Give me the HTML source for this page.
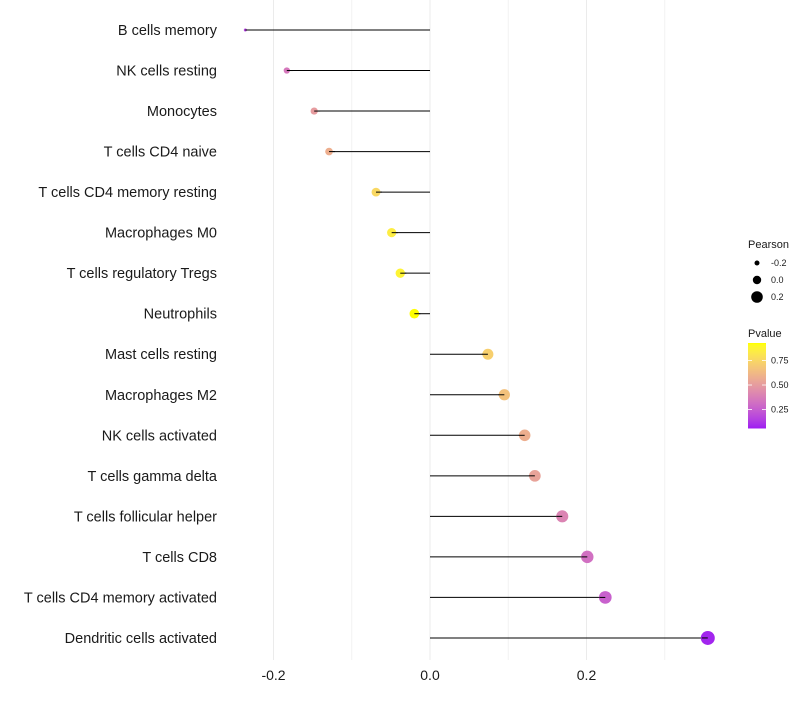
<!DOCTYPE html>
<html><head><meta charset="utf-8"><style>
body{margin:0;background:#fff;}
svg text{font-family:"Liberation Sans",sans-serif;}
</style></head><body>
<svg id="chart" width="800" height="700"></svg>
<script>
const categories=["B cells memory","NK cells resting","Monocytes","T cells CD4 naive","T cells CD4 memory resting","Macrophages M0","T cells regulatory  Tregs ","Neutrophils","Mast cells resting","Macrophages M2","NK cells activated","T cells gamma delta","T cells follicular helper","T cells CD8","T cells CD4 memory activated","Dendritic cells activated"];
const pearson=[-0.236,-0.183,-0.148,-0.129,-0.069,-0.049,-0.038,-0.020,0.074,0.095,0.121,0.134,0.169,0.201,0.224,0.355];
const pvalues=[0.15,0.35,0.5,0.58,0.76,0.85,0.88,0.93,0.72,0.66,0.58,0.53,0.4,0.32,0.26,0.07];
const xTicks=[-0.2,0.0,0.2];
const xTickLabels=["-0.2","0.0","0.2"];
const xMinorTicks=[-0.1,0.1,0.3];
const sizeLegend=[-0.2,0.0,0.2];
const colorLegendTicks=[0.25,0.5,0.75];

const NS="http://www.w3.org/2000/svg";
const svg=document.getElementById('chart');
function mk(t,a){const e=document.createElementNS(NS,t);for(const k in a)e.setAttribute(k,a[k]);return e;}
const xs=v=>430+v*782.5;
const ys=i=>30+i*40.53;
const pmn=Math.min(...pearson),pmx=Math.max(...pearson);
const rs=v=>1.5+5.5*Math.sqrt(Math.max(0,(v-pmn)/(pmx-pmn)));
function toLab(r,g,b){[r,g,b]=[r,g,b].map(c=>{c/=255;return c>0.04045?Math.pow((c+0.055)/1.055,2.4):c/12.92});
let X=(r*0.4124+g*0.3576+b*0.1805)/0.95047,Y=r*0.2126+g*0.7152+b*0.0722,Z=(r*0.0193+g*0.1192+b*0.9505)/1.08883;
const f=t=>t>0.008856?Math.cbrt(t):7.787*t+16/116;X=f(X);Y=f(Y);Z=f(Z);return[116*Y-16,500*(X-Y),200*(Y-Z)];}
function fromLab(L,a,b){let Y=(L+16)/116,X=a/500+Y,Z=Y-b/200;const f=t=>t*t*t>0.008856?t*t*t:(t-16/116)/7.787;
X=f(X)*0.95047;Y=f(Y);Z=f(Z)*1.08883;let r=X*3.2406+Y*-1.5372+Z*-0.4986,g=X*-0.9689+Y*1.8758+Z*0.0415,bb=X*0.0557+Y*-0.2040+Z*1.0570;
return 'rgb('+[r,g,bb].map(c=>{c=c>0.0031308?1.055*Math.pow(c,1/2.4)-0.055:12.92*c;return Math.round(Math.max(0,Math.min(1,c))*255)}).join(',')+')';}
const lo=toLab(160,32,240),hi=toLab(255,255,0);
const pmin=0.06,pmax=0.93;
function col(p){let t=(p-pmin)/(pmax-pmin);t=Math.max(0,Math.min(1,t));return fromLab(lo[0]+(hi[0]-lo[0])*t,lo[1]+(hi[1]-lo[1])*t,lo[2]+(hi[2]-lo[2])*t);}

xMinorTicks.forEach(v=>{const l=mk('line',{x1:xs(v),x2:xs(v),y1:0,y2:660,stroke:'#f2f2f2','stroke-width':1});


svg.appendChild(l);});
xTicks.forEach(v=>{const l=mk('line',{x1:xs(v),x2:xs(v),y1:0,y2:660,stroke:'#ebebeb','stroke-width':1});


svg.appendChild(l);});
xTicks.forEach((v,i)=>{const t=mk('text',{x:xs(v),y:680,'text-anchor':'middle','font-size':14,fill:'#1a1a1a'});t.textContent=xTickLabels[i];


svg.appendChild(t);});
categories.forEach((c,i)=>{
const t=mk('text',{x:217,y:ys(i)+5,'text-anchor':'end','font-size':14.5,fill:'#1a1a1a'});t.textContent=c;t.setAttribute('xml:space','preserve');


svg.appendChild(t);
const l=mk('line',{x1:xs(0),x2:xs(pearson[i]),y1:ys(i),y2:ys(i),stroke:'#000','stroke-width':1});


svg.appendChild(l);
const d=mk('circle',{cx:xs(pearson[i]),cy:ys(i),r:rs(pearson[i]),fill:col(pvalues[i])});


svg.appendChild(d);
const l2=mk('line',{x1:xs(pearson[i]),x2:xs(pearson[i])+(pearson[i]<0?6:-6),y1:ys(i),y2:ys(i),stroke:'#000','stroke-width':1});


svg.appendChild(l2);
});
let t=mk('text',{x:748,y:248,'font-size':11,fill:'#1a1a1a'});t.textContent='Pearson';


svg.appendChild(t);
const legR=[2.5,4.2,5.8];
sizeLegend.forEach((v,i)=>{const y=263+i*17;const c=mk('circle',{cx:757,cy:y,r:legR[i],fill:'#000'});


svg.appendChild(c);
const tt=mk('text',{x:771,y:y+3,'font-size':9,fill:'#1a1a1a'});tt.textContent=v.toFixed(1);


svg.appendChild(tt);});
t=mk('text',{x:748,y:337,'font-size':11,fill:'#1a1a1a'});t.textContent='Pvalue';


svg.appendChild(t);
const cbTop=343,cbBot=428;
for(let k=0;k<85;k++){const p=pmax-(pmax-pmin)*k/84;const r=mk('rect',{x:748,y:cbTop+k,width:18,height:1.5,fill:col(p)});


svg.appendChild(r);}
colorLegendTicks.forEach(v=>{const y=cbBot-(v-pmin)/(pmax-pmin)*(cbBot-cbTop);
const l=mk('line',{x1:748,x2:752,y1:y,y2:y,stroke:'#fff','stroke-width':0.8});svg.appendChild(l);
const l3=mk('line',{x1:762,x2:766,y1:y,y2:y,stroke:'#fff','stroke-width':0.8});svg.appendChild(l3);
const tt=mk('text',{x:771,y:y+3,'font-size':9,fill:'#1a1a1a'});tt.textContent=v.toFixed(2);


svg.appendChild(tt);});
</script>
</body></html>
